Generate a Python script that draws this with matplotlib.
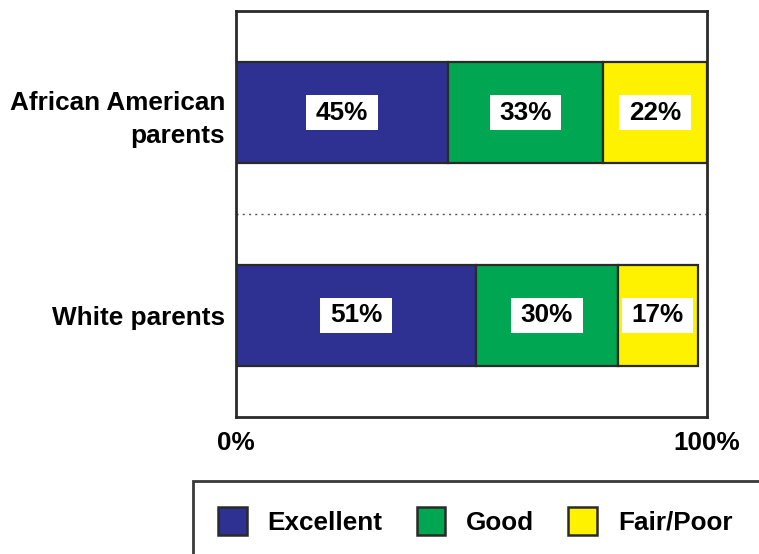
import matplotlib.pyplot as plt
from matplotlib.patches import Patch, Rectangle

groups = ['White parents', 'African American\nparents']
categories = ['Excellent', 'Good', 'Fair/Poor']
excellent = [51, 45]
good = [30, 33]
fair_poor = [17, 22]
colors = ['#2E3192', '#00A651', '#FFF200']
ypos = [1, 3]

plt.rcParams['font.family'] = ['Liberation Sans', 'DejaVu Sans']
plt.rcParams['font.weight'] = 'bold'
fs = 18.8
edge = '#2a2a2a'

fig = plt.figure(figsize=(7.59, 5.54), dpi=100)
ax = fig.add_axes([236 / 759, 137 / 554, 471 / 759, 406 / 554])

left = [0, 0]
for vals, col in zip([excellent, good, fair_poor], colors):
    ax.barh(ypos, vals, left=left, height=1.0, color=col, edgecolor=edge, linewidth=1.6)
    for y, v, l in zip(ypos, vals, left):
        cx = l + v / 2
        ax.add_patch(Rectangle((cx - 7.6, y - 0.17), 15.2, 0.34, facecolor='white',
                               edgecolor='none', zorder=3))
        ax.text(cx, y, f'{v}%', ha='center', va='center', fontsize=fs,
                fontweight='bold', zorder=4)
    left = [a + b for a, b in zip(left, vals)]

ax.plot([0, 100], [2, 2], linestyle=(0, (1.5, 3)), color='#555555', linewidth=1.0)

ax.set_xlim(0, 100)
ax.set_ylim(0, 4)
ax.set_yticks(ypos)
ax.set_yticklabels(groups, fontsize=fs, fontweight='bold', ha='right', linespacing=1.45)
ax.set_xticks([0, 100])
ax.set_xticklabels(['0%', '100%'], fontsize=fs, fontweight='bold')
ax.tick_params(axis='both', length=0)
ax.tick_params(axis='y', pad=8)
ax.tick_params(axis='x', pad=10)
for s in ax.spines.values():
    s.set_color(edge)
    s.set_linewidth(2)

handles = [Patch(facecolor=c, edgecolor=edge, linewidth=1.8, label=l)
           for c, l in zip(colors, categories)]
fig.legend(handles=handles, loc='upper left', bbox_to_anchor=(218 / 759, 1 - 507 / 554),
           ncol=3, frameon=False, fontsize=fs, borderpad=0, borderaxespad=0,
           handlelength=1.1, handleheight=1.25, handletextpad=0.8, columnspacing=1.3,
           prop={'weight': 'bold', 'size': fs})
fig.patches.append(Rectangle((193 / 759, -0.2), 1, 0.2 + (554 - 481) / 554,
                             transform=fig.transFigure, fill=False, edgecolor='#3a3a3a',
                             linewidth=2))

fig.savefig('out.png', dpi=100)
